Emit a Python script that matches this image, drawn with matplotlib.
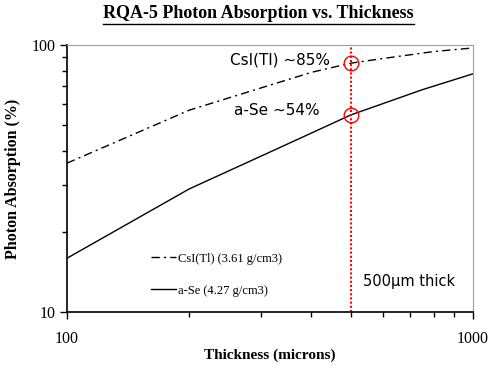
import numpy as np
import matplotlib as mpl
mpl.use('Agg')
import matplotlib.pyplot as plt
from matplotlib.ticker import LogLocator, NullFormatter, FixedFormatter, FixedLocator

# data
csi_x = [100, 200, 300, 400, 500, 600, 800, 1000]
csi_y = [36.1, 57.0, 69.0, 79.0, 85.5, 89.0, 94.5, 97.5]
se_x = [100, 200, 300, 400, 500, 750, 1000]
se_y = [15.9, 28.9, 38.3, 46.8, 54.7, 68.0, 78.0]
mark_x = 500
mark_y = [85.5, 54.7]

serif = 'Liberation Serif'
note_font = 'DejaVu Sans'

fig = plt.figure(figsize=(4.92, 3.68), dpi=100)
ax = fig.add_axes([67/492, 1-312/368, 406/492, 267/368])

ax.plot(csi_x, csi_y, color='k', lw=1.0, ls=(0, (6, 3, 1.5, 3)), label='CsI(Tl) (3.61 g/cm3)')
ax.plot(se_x, se_y, color='k', lw=1.0, ls='-', label='a-Se (4.27 g/cm3)')
ax.axvline(mark_x, color='red', lw=1.5, ls=(0, (1, 1)))
ax.plot([mark_x]*2, mark_y, ls='None', marker='o', markersize=10.5,
        markerfacecolor='none', markeredgecolor='red', markeredgewidth=1.0)

ax.set_xscale('log')
ax.set_yscale('log')
ax.set_xlim(100, 1000)
ax.set_ylim(10, 100)

ax.xaxis.set_major_locator(FixedLocator([100, 1000]))
ax.xaxis.set_major_formatter(FixedFormatter(['100', '1000']))
ax.xaxis.set_minor_locator(LogLocator(base=10, subs=np.arange(2, 10)))
ax.xaxis.set_minor_formatter(NullFormatter())
ax.yaxis.set_major_locator(FixedLocator([10, 100]))
ax.yaxis.set_major_formatter(FixedFormatter(['10', '100']))
ax.yaxis.set_minor_locator(LogLocator(base=10, subs=np.arange(2, 10)))
ax.yaxis.set_minor_formatter(NullFormatter())

ax.tick_params(axis='both', which='both', direction='out', width=1.0, color='k')
ax.tick_params(axis='both', which='major', length=5, labelsize=11.5)
ax.tick_params(axis='both', which='minor', length=3.5)
ax.tick_params(axis='x', which='major', pad=9)
ax.tick_params(axis='y', which='major', pad=3)
for lbl in ax.get_xticklabels() + ax.get_yticklabels():
    lbl.set_fontfamily(serif)

ax.spines['top'].set_color('#a0a0a0')
ax.spines['right'].set_color('#a0a0a0')
ax.spines['left'].set_linewidth(1.2)
ax.spines['bottom'].set_linewidth(1.2)

ax.set_xlabel('Thickness (microns)', fontfamily=serif, fontweight='bold', fontsize=11, labelpad=1)
ax.set_ylabel('Photon Absorption (%)', fontfamily=serif, fontweight='bold', fontsize=11.5, labelpad=8)

ax.text(0.648, 0.944, 'CsI(Tl) ~85%', family=note_font, fontsize=11, ha='right', va='center',
        transform=ax.transAxes)
ax.text(0.623, 0.753, 'a-Se ~54%', family=note_font, fontsize=11, ha='right', va='center',
        transform=ax.transAxes)
ax.text(0.73, 0.115, '500\u00b5m thick', family=note_font, fontsize=10.5, ha='left', va='center',
        transform=ax.transAxes)

ax.legend(loc='lower left', bbox_to_anchor=(0.18, 0.015), frameon=False,
          prop={'family': serif, 'size': 9}, handlelength=2.0, labelspacing=1.6,
          handletextpad=0.1)

title = fig.text(0.525, 0.962, 'RQA-5 Photon Absorption vs. Thickness', ha='center', va='center',
                 fontfamily=serif, fontweight='bold', fontsize=13)
fig.canvas.draw()
bb = title.get_window_extent().transformed(fig.transFigure.inverted())
fig.add_artist(plt.Line2D([bb.x0, bb.x1], [bb.y0 - 0.003, bb.y0 - 0.003], color='k', lw=1.0,
                          transform=fig.transFigure))

fig.savefig('out.png', dpi=100)
